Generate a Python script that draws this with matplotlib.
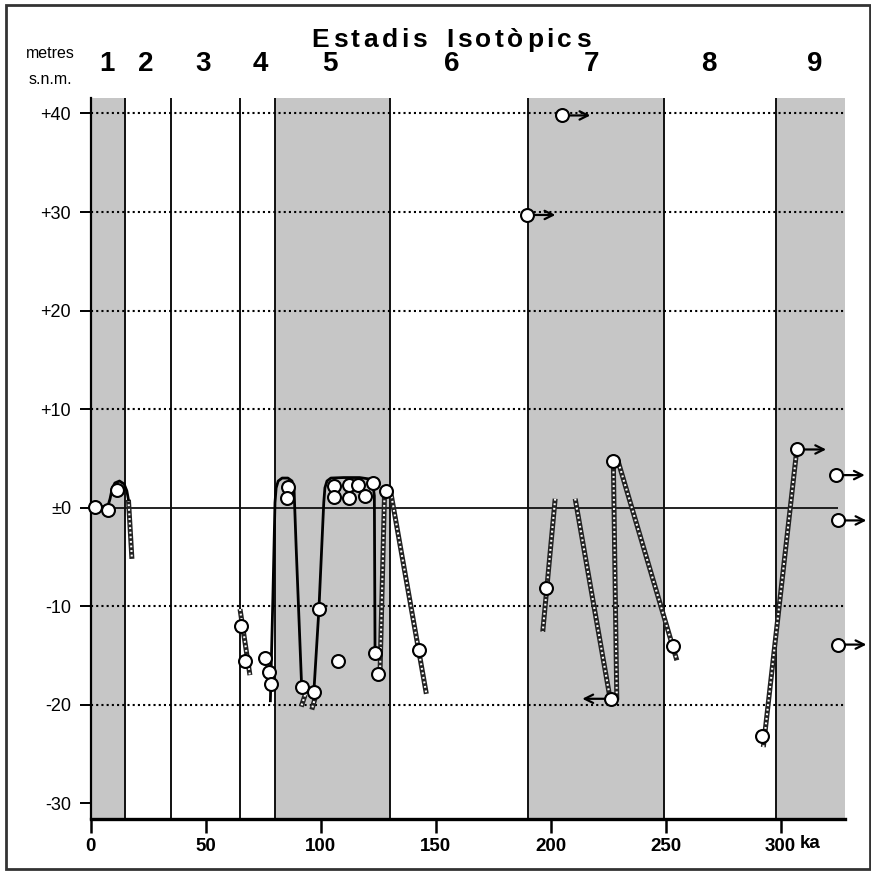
import matplotlib
matplotlib.use("Agg")
import matplotlib.pyplot as plt
from matplotlib import font_manager as fm
from matplotlib.patches import Rectangle

# isotopic stages (ka)
stage_names = ["1", "2", "3", "4", "5", "6", "7", "8", "9"]
stage_label_ka = [7, 24, 49, 74, 104, 157, 218, 269, 315]
stage_lines = [15, 35, 65, 80, 130, 190, 249.5, 298]
warm_start = [0, 80, 190, 298]
warm_end = [15, 130, 249.5, 328]

# sea level curves (solid)
curve_ka = [
    [0, 4, 7.5, 8.5, 9.4, 10.6, 12.6, 14.6, 15.8, 16.5],
    [78.2, 79.3, 80.2, 80.7, 81.6, 83.3, 85.8, 87.6, 88.5, 89.4, 91.8],
    [97.1, 99.3, 101.4, 101.9, 102.8, 104.5, 110, 117, 121.3, 122.8, 123.4, 123.7],
]
curve_m = [
    [0.15, 0.1, 0.1, 0.9, 1.9, 2.5, 2.7, 2.4, 1.7, 0.8],
    [-19.6, -9, 0.5, 2.0, 2.7, 3.0, 3.0, 2.7, 1.8, -4, -18.2],
    [-18.7, -10.3, 0.5, 2.0, 2.7, 3.0, 3.05, 3.05, 2.9, 2.3, 1.2, -14.8],
]

# uncertain trends (hatched)
hatch_ka = [[16.5, 18.0], [65.0, 69.3], [93.3, 91.6], [97.8, 96.2],
            [127.8, 125.8], [130.5, 146.0], [202.0, 196.6], [210.7, 225.9],
            [227.3, 228.8], [229.5, 254.9], [292.5, 307.0]]
hatch_m = [[0.8, -5.2], [-10.3, -17.0], [-19.0, -20.2], [-19.2, -20.5],
           [1.2, -17.3], [1.6, -18.9], [0.9, -12.6], [0.9, -19.4],
           [4.6, -19.5], [4.6, -15.5], [-24.3, 5.8]]

# dated samples
pt_ka = [2.0, 7.7, 11.4, 65.5, 67.2, 75.9, 77.7, 78.5, 85.8, 85.6, 91.8, 97.1,
         99.3, 106, 112.5, 116.5, 123, 106, 112.5, 119.3, 107.8, 123.7, 125.1,
         128.6, 142.8, 189.6, 204.8, 197.9, 226.3, 227.3, 253.4, 292.1, 307.3,
         324.1, 324.8, 324.8]
pt_m = [0.1, -0.2, 1.8, -12.0, -15.6, -15.3, -16.7, -17.9, 2.1, 1.0, -18.2, -18.7,
        -10.3, 2.2, 2.3, 2.3, 2.5, 1.1, 1.0, 1.2, -15.6, -14.8, -16.9,
        1.7, -14.5, 29.7, 39.8, -8.2, -19.4, 4.7, -14.0, -23.2, 5.9,
        3.3, -1.3, -13.9]

# minimum ages (arrows)
arrow_ka = [189.6, 204.8, 226.3, 307.3, 324.1, 324.8, 324.8]
arrow_m = [29.7, 39.8, -19.4, 5.9, 3.3, -1.3, -13.9]
arrow_dir = [1, 1, -1, 1, 1, 1, 1]

y_ticks = [-30, -20, -10, 0, 10, 20, 30, 40]
y_labels = ["-30", "-20", "-10", "±0", "+10", "+20", "+30", "+40"]
x_ticks = [0, 50, 100, 150, 200, 250, 300]
x_labels = ["0", "50", "100", "150", "200", "250", "300"]


def has_font(name):
    try:
        fm.findfont(fm.FontProperties(family=name), fallback_to_default=False)
        return True
    except Exception:
        return False


narrow = "Liberation Sans Narrow" if has_font("Liberation Sans Narrow") else "Liberation Sans"
plain = "Liberation Sans" if has_font("Liberation Sans") else "DejaVu Sans"

W, H = 871, 874
fig = plt.figure(figsize=(W / 100, H / 100), dpi=100)
ax = fig.add_axes([90.5 / W, 1 - 819 / H, (845 - 90.5) / W, (819 - 97.7) / H])
ax.set_xlim(0, 328)
ax.set_ylim(-31.6, 41.6)

for a, b in zip(warm_start, warm_end):
    ax.axvspan(a, b, color="#c6c6c6", lw=0, zorder=0)
for x in stage_lines:
    ax.axvline(x, color="#111111", lw=1.4, zorder=1)

for y in [-20, -10, 10, 20, 30, 40]:
    ax.axhline(y, color="black", lw=1.5, ls=(0, (1.0, 1.5)), zorder=1)
ax.hlines(0, 0, 325, color="#111111", lw=1.3, zorder=1)

# hatched (rope) lines
for xs, ys in zip(hatch_ka, hatch_m):
    ax.plot(xs, ys, color="#222222", lw=3.6, zorder=2, solid_capstyle="butt")
    ax.plot(xs, ys, color="white", lw=1.5, ls=(0, (0.9, 1.3)), zorder=2,
            dash_capstyle="butt")

for xs, ys in zip(curve_ka, curve_m):
    ax.plot(xs, ys, color="black", lw=2.0, zorder=3, solid_joinstyle="round")

for x, y, d in zip(arrow_ka, arrow_m, arrow_dir):
    ax.annotate("", xy=(x + d * 12.5, y), xytext=(x, y), annotation_clip=False,
                arrowprops=dict(arrowstyle="->", lw=1.6, color="black",
                                shrinkA=4, shrinkB=0, mutation_scale=15),
                zorder=4)

ax.plot(pt_ka, pt_m, "o", ms=9.3, mfc="white", mec="black", mew=1.5,
        zorder=5, clip_on=False)

# axes styling
for s in ["top", "right"]:
    ax.spines[s].set_visible(False)
ax.spines["left"].set_linewidth(1.6)
ax.spines["bottom"].set_linewidth(2.4)
ax.set_yticks(y_ticks)
ax.set_yticklabels(y_labels, family=plain, fontsize=13)
ax.set_xticks(x_ticks)
ax.set_xticklabels(x_labels, family=plain, fontsize=13.5, fontweight="bold")
ax.tick_params(axis="y", length=8, width=1.4, pad=6)
ax.tick_params(axis="x", length=10, width=1.8, pad=4)

ax.text(313, -33.2, "ka", ha="center", va="top",
        fontsize=13.5, fontweight="bold", family=plain, clip_on=False)

for name, x in zip(stage_names, stage_label_ka):
    ax.text(x, 45.0, name, ha="center", va="center", fontsize=20,
            fontweight="bold", family=narrow, clip_on=False)

fig.text(50 / W, 1 - 53 / H, "metres", ha="center", va="center",
         fontsize=11.5, family=plain)
fig.text(50 / W, 1 - 79 / H, "s.n.m.", ha="center", va="center",
         fontsize=11.5, family=plain)


def spaced_text(cx, cy, s, gap, **kw):
    # draw a string letter by letter with extra spacing (pixel coords)
    r = fig.canvas.get_renderer()
    widths = []
    for ch in s:
        if ch == " ":
            widths.append(gap * 1.3)
            continue
        t = fig.text(0, 0, ch, **kw)
        widths.append(t.get_window_extent(r).width)
        t.remove()
    total = sum(widths) + gap * (len(s) - 1)
    x = cx - total / 2
    for ch, w in zip(s, widths):
        if ch != " ":
            fig.text((x + w / 2) / W, 1 - cy / H, ch, ha="center", va="center", **kw)
        x += w + gap


spaced_text(451, 40, "Estadis  Isotòpics", 3.5, fontsize=19, fontweight="bold",
            family=narrow)

fig.patches.append(Rectangle((6 / W, 1 - 869 / H), 864 / W, 864 / H,
                             transform=fig.transFigure, fill=False,
                             lw=2, edgecolor="#333333"))

fig.savefig("out.png", dpi=100)
